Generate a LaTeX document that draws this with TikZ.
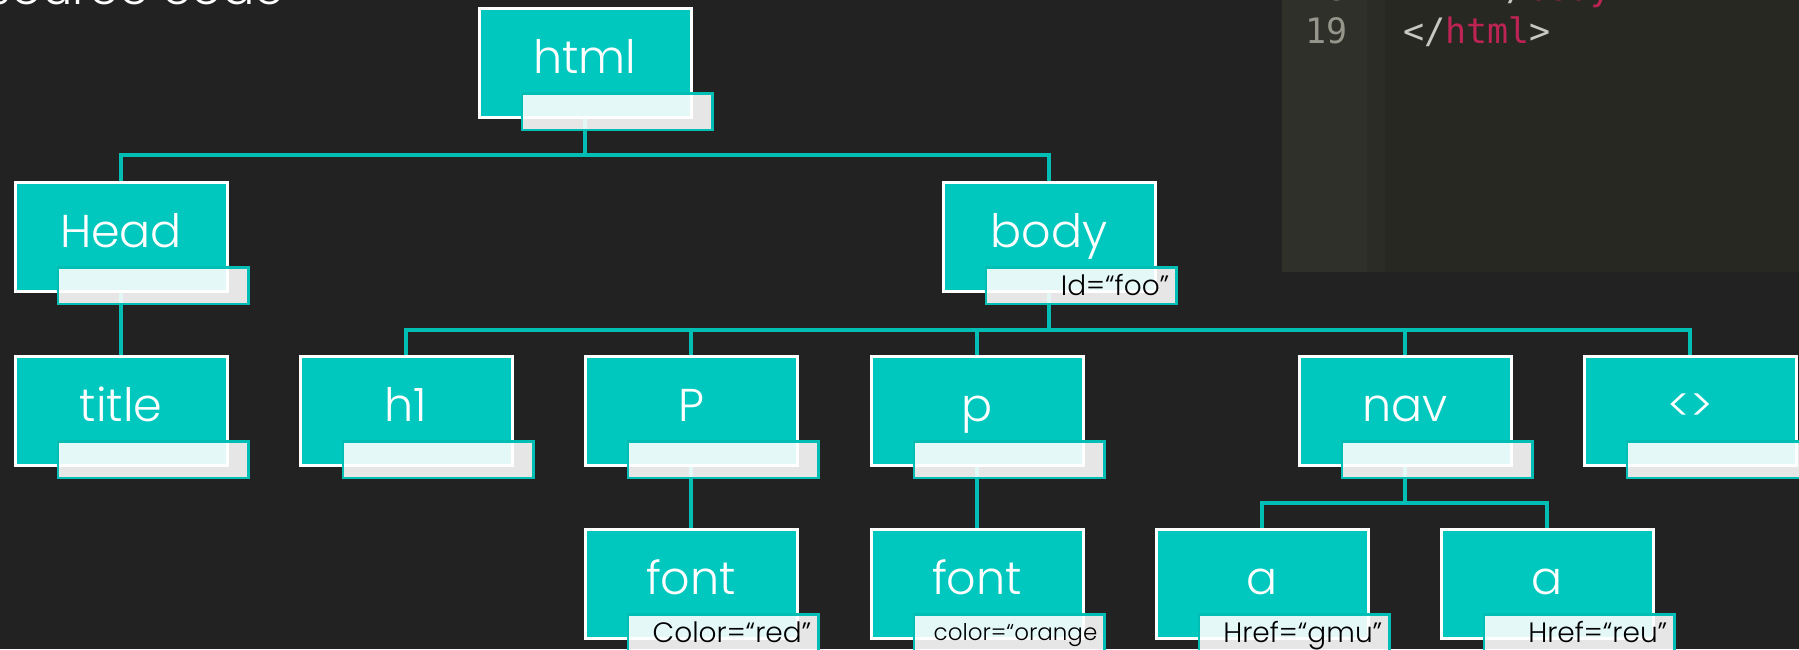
\documentclass[tikz,border=0pt]{standalone}
\usepackage{fontspec}
\setmainfont{Poppins}[UprightFont=* Light]
\newfontfamily\codefont{DejaVu Sans Mono}
\usetikzlibrary{calc}
\definecolor{slidebg}{RGB}{34,34,34}
\definecolor{tagfill}{RGB}{0,200,190}
\definecolor{tagline}{RGB}{0,190,180}
\definecolor{codebg}{RGB}{39,40,34}
\definecolor{codegutter}{RGB}{47,48,41}
\definecolor{codeband}{RGB}{43,44,37}
\definecolor{codenum}{RGB}{150,150,140}
\definecolor{codepunct}{RGB}{200,200,195}
\definecolor{codetag}{RGB}{190,35,85}
\pgfdeclarelayer{bg}
\pgfdeclarelayer{wires}
\pgfsetlayers{bg,wires,main}
\tikzset{
  tagbox/.style={draw=white,line width=3pt,fill=tagfill,minimum width=212pt,minimum height=109pt,
    inner sep=0pt,text=white,font=\fontsize{46}{50}\selectfont,text height=30pt,text depth=10pt},
  tagstrip/.style={draw=tagline,line width=2.5pt,fill=white,fill opacity=0.89,
    minimum width=190.5pt,minimum height=36.5pt,inner sep=0pt},
  attrtext/.style={anchor=east,inner sep=0pt,text=black,font=\fontsize{28}{30}\selectfont,
    text height=20pt,text depth=0pt},
  codetext/.style={anchor=base west,inner sep=0pt,font=\codefont\fontsize{35}{38}\selectfont},
  wire/.style={draw=tagline,line width=3.5pt}
}
\newcommand{\domnode}[4]{\node[tagbox] (#1) at (#2,#3) {#4};
  \node[tagstrip] (#1-strip) at ([xshift=32pt,yshift=-48.5pt]#1.center) {};}
\newcommand{\attr}[3][]{\node[attrtext,#1] (#2-attr) at ([xshift=-8pt]#2-strip.east) {#3};}

\begin{document}
\begin{tikzpicture}[x=1pt,y=-1pt]
\useasboundingbox (0,0) rectangle (1799,649);
\clip (0,0) rectangle (1799,649);
\begin{pgfonlayer}{bg}
\fill[slidebg] (0,0) rectangle (1799,649);
\fill[codebg] (1282,0) rectangle (1799,272);
\fill[codegutter] (1282,0) rectangle (1367,272);
\fill[codeband] (1367,0) rectangle (1385,272);
\end{pgfonlayer}

% slide heading, cut off by the top edge
\node[anchor=base east,inner sep=0pt,text=white,font=\fontsize{48}{50}\selectfont] (heading) at (285,4) {source code};

% code screenshot
\node[codetext,text=codenum] (num18) at (1305,0) {18};
\node[codetext] (line18) at (1485,0) {\textcolor{codepunct}{</}\textcolor{codetag}{body}\textcolor{codepunct}{>}};
\node[codetext,text=codenum] (num19) at (1305,43) {19};
\node[codetext] (line19) at (1403,43) {\textcolor{codepunct}{</}\textcolor{codetag}{html}\textcolor{codepunct}{>}};

% DOM tree
\domnode{html}{585}{63}{html}
\domnode{head}{121}{237}{Head}
\domnode{body}{1049}{237}{body}
\domnode{title}{121}{411}{title}
\domnode{hone}{406}{411}{h1}
\domnode{para}{691}{411}{P}
\domnode{parb}{977}{411}{p}
\domnode{nav}{1405}{411}{nav}
\domnode{misc}{1690}{411}{<>}
\domnode{fonta}{691}{584}{font}
\domnode{fontb}{977}{584}{font}
\domnode{linka}{1262}{584}{a}
\domnode{linkb}{1547}{584}{a}
\attr{body}{Id=“foo”}
\attr{fonta}{Color=“red”}
\attr[font=\fontsize{23}{25}\selectfont,text height=16pt]{fontb}{color=“orange}
\attr{linka}{Href=“gmu”}
\attr{linkb}{Href=“reu”}

\begin{pgfonlayer}{wires}
\draw[wire] (html.center) -- ++(0,92) -| (head.center);
\draw[wire] (html.center) -- ++(0,92) -| (body.center);
\draw[wire] (head.center) -- (title.center);
\foreach \kid in {hone,para,parb,nav,misc}
  \draw[wire] (body.center) -- ++(0,93) -| (\kid.center);
\draw[wire] (para.center) -- (fonta.center);
\draw[wire] (parb.center) -- (fontb.center);
\foreach \kid in {linka,linkb}
  \draw[wire] (nav.center) -- ++(0,92) -| (\kid.center);
\end{pgfonlayer}
\end{tikzpicture}
\end{document}
